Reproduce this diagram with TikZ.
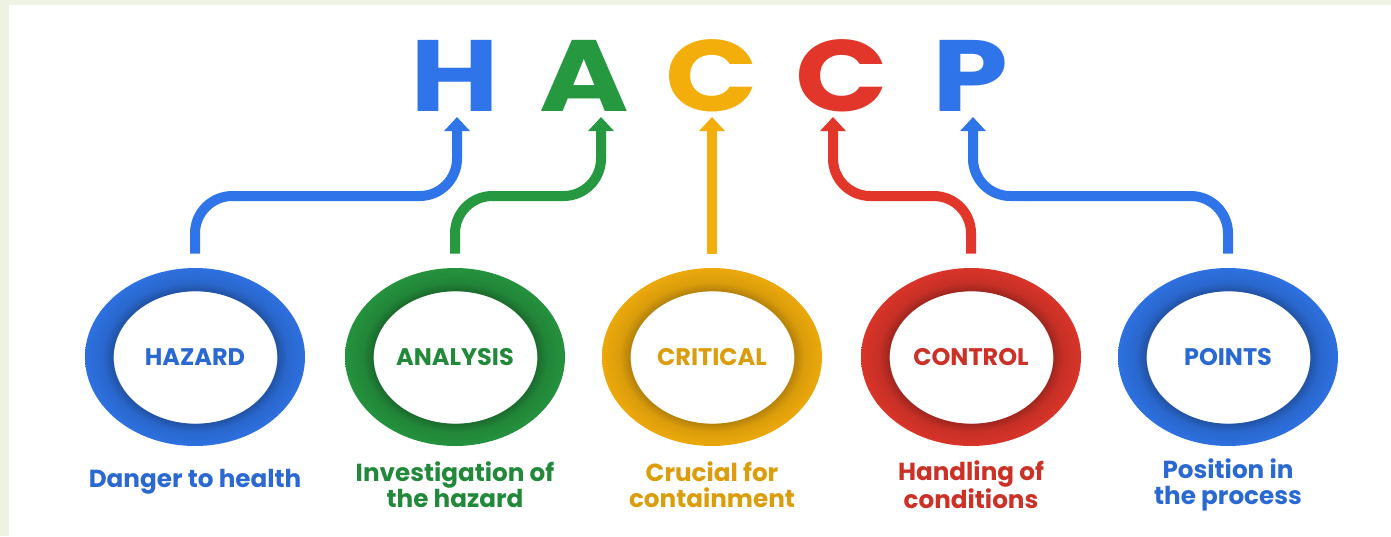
\documentclass[tikz,border=0pt]{standalone}
\usepackage{fontspec}
\setmainfont{Poppins}
\usepackage{graphicx}
\usepackage{tikz}
\usetikzlibrary{shapes.geometric}
\usetikzlibrary{arrows.meta}

\definecolor{hblue}{RGB}{47,117,233}
\definecolor{hgreen}{RGB}{38,152,64}
\definecolor{hyellow}{RGB}{243,174,12}
\definecolor{hred}{RGB}{226,54,43}
\definecolor{frame}{RGB}{238,242,226}

% ring fill: white hole, dark inner edge, lighter outside (25bp = edge of the shape)
\pgfdeclareradialshading{ringhblue}{\pgfpoint{0bp}{0bp}}{color(0bp)=(white); color(18.5bp)=(white); color(18.6bp)=(hblue!70!black); color(21bp)=(hblue!88!black); color(25bp)=(hblue!96!black); color(50bp)=(hblue!96!black)}
\pgfdeclareradialshading{ringhgreen}{\pgfpoint{0bp}{0bp}}{color(0bp)=(white); color(18.5bp)=(white); color(18.6bp)=(hgreen!70!black); color(21bp)=(hgreen!88!black); color(25bp)=(hgreen!96!black); color(50bp)=(hgreen!96!black)}
\pgfdeclareradialshading{ringhyellow}{\pgfpoint{0bp}{0bp}}{color(0bp)=(white); color(18.5bp)=(white); color(18.6bp)=(hyellow!74!black); color(21bp)=(hyellow!90!black); color(25bp)=(hyellow!97!black); color(50bp)=(hyellow!97!black)}
\pgfdeclareradialshading{ringhred}{\pgfpoint{0bp}{0bp}}{color(0bp)=(white); color(18.5bp)=(white); color(18.6bp)=(hred!70!black); color(21bp)=(hred!88!black); color(25bp)=(hred!96!black); color(50bp)=(hred!96!black)}

\newcommand{\wideletter}[1]{\scalebox{1.2}[1]{#1}}

\tikzset{every picture/.style={line width=0.75pt}}
\tikzset{
  letter/.style={anchor=base, inner sep=0pt, text=#1, font=\fontsize{76}{76}\selectfont\bfseries},
  ring/.style={ellipse, shade, shading=ring#1, inner sep=0pt,
    minimum width=165pt, minimum height=133.5pt, text=#1!90!black,
    font=\fontsize{18}{22}\selectfont\bfseries},
  desc/.style={align=center, inner sep=0pt, text=#1!90!black, font=\fontsize{18.5}{19.5}\selectfont\bfseries},
  conn/.style={draw=#1, line width=7.5pt, rounded corners=28pt, shorten <=10.5pt,
    -{Triangle[width=18.75pt,length=10.5pt]}}
}

\begin{document}
\begin{tikzpicture}[x=0.75pt,y=0.75pt,yscale=-1,xscale=1]

%Background
\fill[frame] (0,0) rectangle (1391,536);
\fill[white] (9,5) rectangle (1391,536);

% Letters
\node[letter=hblue] (lH) at (455,111) {\wideletter{H}};
\node[letter=hgreen] (lA) at (584,111) {\wideletter{A}};
\node[letter=hyellow] (lC1) at (712,111) {\wideletter{C}};
\node[letter=hred] (lC2) at (842,111) {\wideletter{C}};
\node[letter=hblue] (lP) at (970,111) {\wideletter{P}};

% Arrow tips under the letters
\coordinate (tH) at (457,117);
\coordinate (tA) at (601,117);
\coordinate (tC1) at (712,117);
\coordinate (tC2) at (833,117);
\coordinate (tP) at (973,117);
\coordinate (midy) at (0,196);

% Rings
\node[ring=hblue] (haz) at (195,357) {HAZARD};
\node[ring=hgreen] (ana) at (455,357) {ANALYSIS};
\node[ring=hyellow] (crit) at (712,357) {CRITICAL};
\node[ring=hred] (ctl) at (971,357) {CONTROL};
\node[ring=hblue] (pts) at (1228,357) {POINTS};

% Connectors
\draw[conn=hblue] (haz.north) -- (haz.north |- midy) -| (tH);
\draw[conn=hgreen] (ana.north) -- (ana.north |- midy) -| (tA);
\draw[conn=hyellow] (crit.north) -- (tC1);
\draw[conn=hred] (ctl.north) -- (ctl.north |- midy) -| (tC2);
\draw[conn=hblue] (pts.north) -- (pts.north |- midy) -| (tP);

% Text Node
\node[desc=hblue] (dHaz) at (195,482) {Danger to health};
\node[desc=hgreen] (dAna) at (455,485) {Investigation of\\the hazard};
\node[desc=hyellow] (dCrit) at (712,485) {Crucial for\\containment};
\node[desc=hred] (dCtl) at (971,485) {Handling of\\conditions};
\node[desc=hblue] (dPts) at (1228,485) {Position in\\the process};

\end{tikzpicture}
\end{document}
